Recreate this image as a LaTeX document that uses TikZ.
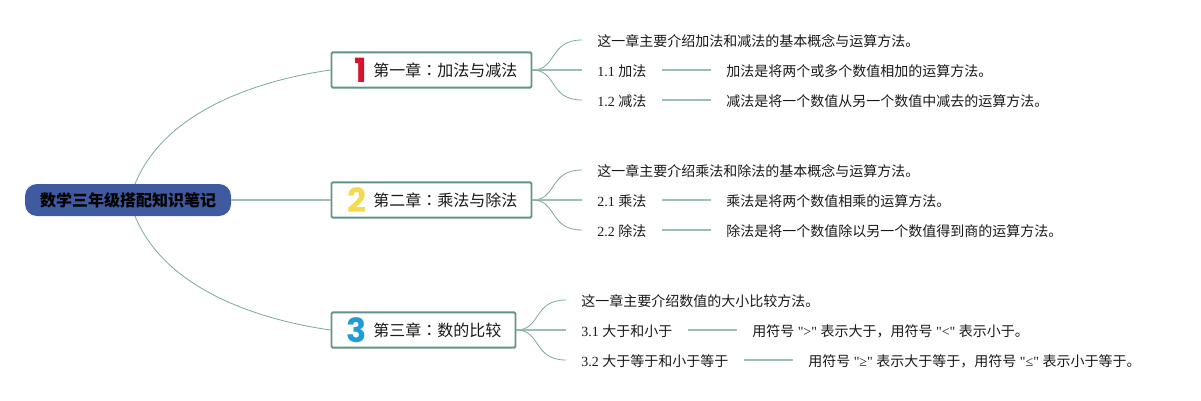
\documentclass[tikz,border=0pt]{standalone}
\usepackage{fontspec}
\setmainfont{Liberation Serif}[Ligatures=TeXOff]
\newfontfamily\cjk{Noto Sans CJK SC}
\newfontfamily\cjkcolon{Noto Sans CJK TC}
\newfontfamily\numfont{Poppins}[BoldFont={Poppins Bold}]

\definecolor{linkgreen}{HTML}{7BA89B}
\definecolor{boxgreen}{HTML}{5F9486}
\definecolor{rootblue}{HTML}{3F5A9E}
\definecolor{numred}{HTML}{D7142E}
\definecolor{numyellow}{HTML}{F5D950}
\definecolor{numblue}{HTML}{1F9BD8}

\tikzset{
    rootbox/.style={draw=none,fill=rootblue,rounded corners=9pt,minimum width=154.5pt,minimum height=24pt,inner sep=0pt,font=\cjk\bfseries\fontsize{12pt}{14pt}\selectfont,text=black},
    chapbox/.style={draw=boxgreen,line width=1.4pt,rounded corners=1pt,minimum height=26.5pt,inner sep=0pt,anchor=west},
    chaptitle/.style={anchor=west,inner sep=0pt,text height=11pt,text depth=1pt,font=\cjk\fontsize{12pt}{14pt}\selectfont,text=black!90},
    chapnum/.style={anchor=east,inner sep=0pt,font=\numfont\bfseries\fontsize{25pt}{27pt}\selectfont},
    leaf/.style={anchor=west,inner xsep=11.25pt,inner ysep=0pt,text height=10pt,text depth=1pt,font=\fontsize{10.5pt}{12pt}\selectfont,text=black!90},
    link/.style={draw=linkgreen,line width=0.6pt},
    sublink/.style={draw=linkgreen!75,line width=0.9pt},
}

\begin{document}
\begin{tikzpicture}[x=0.75pt,y=-0.75pt]
    \useasboundingbox (0,0) rectangle (1201,400);

    % root
    \node[rootbox] (root) at (128,200) {数学三年级搭配知识笔记};
    \coordinate (roottop) at (135,184);
    \coordinate (rootbot) at (135,216);

    % chapter boxes
    \node[chapbox,minimum width=150pt] (ch1) at (330.5,70) {};
    \node[chapbox,minimum width=150pt] (ch2) at (330.5,200) {};
    \node[chapbox,minimum width=138pt] (ch3) at (330.5,330) {};

    % chapter numbers
    \node[chapnum,text=numred] (num1) at (367,70) {1};
    \node[chapnum,text=numyellow] (num2) at (367,200) {2};
    \node[chapnum,text=numblue] (num3) at (367,330) {3};

    % chapter titles
    \node[chaptitle] (title1) at (373,70) {第一章{\cjkcolon ：}加法与减法};
    \node[chaptitle] (title2) at (373,200) {第二章{\cjkcolon ：}乘法与除法};
    \node[chaptitle] (title3) at (373,330) {第三章{\cjkcolon ：}数的比较};

    % chapter 1
    \node[leaf] (a0) at (582,40) {\cjk 这一章主要介绍加法和减法的基本概念与运算方法。};
    \node[leaf] (a1) at (582,70) {1.1 {\cjk 加法}};
    \node[leaf] (a2) at (582,100) {1.2 {\cjk 减法}};
    \node[leaf] (a3) at (711,70) {\cjk 加法是将两个或多个数值相加的运算方法。};
    \node[leaf] (a4) at (711,100) {\cjk 减法是将一个数值从另一个数值中减去的运算方法。};

    % chapter 2
    \node[leaf] (b0) at (582,170) {\cjk 这一章主要介绍乘法和除法的基本概念与运算方法。};
    \node[leaf] (b1) at (582,200) {2.1 {\cjk 乘法}};
    \node[leaf] (b2) at (582,230) {2.2 {\cjk 除法}};
    \node[leaf] (b3) at (711,200) {\cjk 乘法是将两个数值相乘的运算方法。};
    \node[leaf] (b4) at (711,230) {\cjk 除法是将一个数值除以另一个数值得到商的运算方法。};

    % chapter 3
    \node[leaf] (c0) at (566,300) {\cjk 这一章主要介绍数值的大小比较方法。};
    \node[leaf] (c1) at (566,330) {3.1 {\cjk 大于和小于}};
    \node[leaf] (c2) at (566,360) {3.2 {\cjk 大于等于和小于等于}};
    \node[leaf] (c3) at (737,330) {{\cjk 用符号} ">" {\cjk 表示大于，用符号} "<" {\cjk 表示小于。}};
    \node[leaf] (c4) at (793,360) {{\cjk 用符号} "≥" {\cjk 表示大于等于，用符号} "≤" {\cjk 表示小于等于。}};

    % root links
    \draw[link] (roottop) .. controls (165,110) and (260,80) .. (ch1.west);
    \draw[sublink] (root.east) -- (ch2.west);
    \draw[link] (rootbot) .. controls (165,290) and (260,320) .. (ch3.west);

    % chapter links
    \foreach \from/\a/\b/\c in {ch1/a0/a1/a2,ch2/b0/b1/b2,ch3/c0/c1/c2} {
        \draw[link] (\from.east) .. controls +(25,0) and ([xshift=-25]\a.west) .. (\a.west);
        \draw[sublink] (\from.east) -- (\b.west);
        \draw[link] (\from.east) .. controls +(25,0) and ([xshift=-25]\c.west) .. (\c.west);
    }

    % leaf links
    \foreach \from/\to in {a1/a3,a2/a4,b1/b3,b2/b4,c1/c3,c2/c4}
        \draw[sublink] (\from.east) -- (\to.west);
\end{tikzpicture}
\end{document}
